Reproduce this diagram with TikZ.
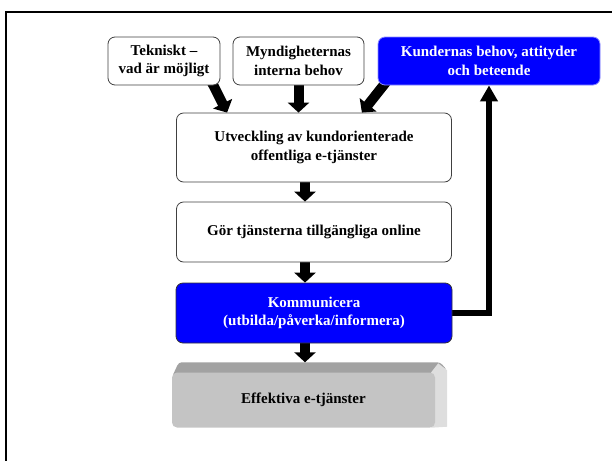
\documentclass[tikz,border=0pt]{standalone}
\usepackage{fontspec}
\setmainfont{Liberation Serif}
\usetikzlibrary{arrows.meta,backgrounds,calc}
\definecolor{pureblue}{RGB}{0,0,255}
\definecolor{frontgray}{RGB}{196,196,196}
\definecolor{topgray}{RGB}{162,162,162}
\definecolor{sidegray}{RGB}{222,222,222}
\begin{document}
\begin{tikzpicture}[x=1pt,y=-1pt,
  box/.style={draw=black!75,line width=0.8pt,rounded corners=7pt,fill=white,
    align=center,font=\fontsize{15}{18.5}\selectfont\bfseries,inner sep=0pt},
  bluebox/.style={box,fill=pureblue,text=white},
  blockarrow/.style={line width=10pt,-{Triangle[width=21pt,length=10pt]}},
  backarrow/.style={line width=6pt,-{Triangle[width=17pt,length=16pt]}}]
\useasboundingbox (0,0) rectangle (612,461);
% frame
\draw[line width=2pt] (612,11.5) -- (6,11.5) -- (6,461);
% boxes
\node[box,minimum width=112pt,minimum height=48pt] (tek) at (164,61) {Tekniskt --\\vad är möjligt};
\node[box,minimum width=131pt,minimum height=48pt] (mynd) at (298.5,61) {Myndigheternas\\interna behov};
\node[bluebox,draw=blue!45,minimum width=222pt,minimum height=48pt] (kund) at (489,61) {Kundernas behov, attityder\\och beteende};
\node[box,minimum width=275pt,minimum height=69pt] (utv) at (314,147.5) {Utveckling av kundorienterade\\offentliga e-tjänster};
\node[box,minimum width=275pt,minimum height=60pt] (gor) at (314,232) {Gör tjänsterna tillgängliga online};
\node[bluebox,draw=black!80,minimum width=276pt,minimum height=60pt] (kom) at (314,313) {Kommunicera\\(utbilda/påverka/informera)};
% Effektiva e-tjänster 3D block
\node[fill=frontgray,rounded corners=5pt,minimum width=263pt,minimum height=55pt,inner sep=0pt,
  font=\fontsize{15}{18.5}\selectfont\bfseries] (eff) at (303.5,400) {Effektiva e-tjänster};
\coordinate (efftop) at ($(eff.north)+(0,-10)$);
\begin{scope}[on background layer]
  \fill[topgray,rounded corners=3pt] ($(eff.north west)+(0,5)$) -- ($(eff.north west)+(7,-10)$) -- ($(eff.north east)+(5,-10)$)
     -- ($(eff.north east)+(12,-2)$) -- ($(eff.north east)+(0,5)$) -- cycle;
  \fill[sidegray] ($(eff.north east)+(-4,0)$) -- ($(eff.north east)+(3,-9)$) -- ($(eff.north east)+(12,-2)$)
     -- ($(eff.south east)+(12,-1)$) -- ($(eff.south east)+(-4,0)$) -- cycle;
  % arrows behind boxes
  \draw[blockarrow] ([xshift=-9pt,yshift=4pt]tek.south east) -- ([xshift=51pt]utv.north west);
  \draw[blockarrow] ([yshift=4pt]mynd.south) -- (mynd.south |- utv.north);
  \draw[blockarrow] ([xshift=9pt,yshift=4pt]kund.south west) -- ([xshift=-90pt]utv.north east);
  \draw[blockarrow] ([xshift=-9pt,yshift=4pt]utv.south) -- ([xshift=-9pt]gor.north);
  \draw[blockarrow] ([xshift=-9pt,yshift=4pt]gor.south) -- ([xshift=-9pt]kom.north);
  \draw[blockarrow] ([xshift=-9pt,yshift=4pt]kom.south) -- ([xshift=-9pt]kom.south |- efftop);
  \draw[backarrow] ([xshift=-3pt]kom.east) -| (kund.south);
\end{scope}
\end{tikzpicture}
\end{document}
